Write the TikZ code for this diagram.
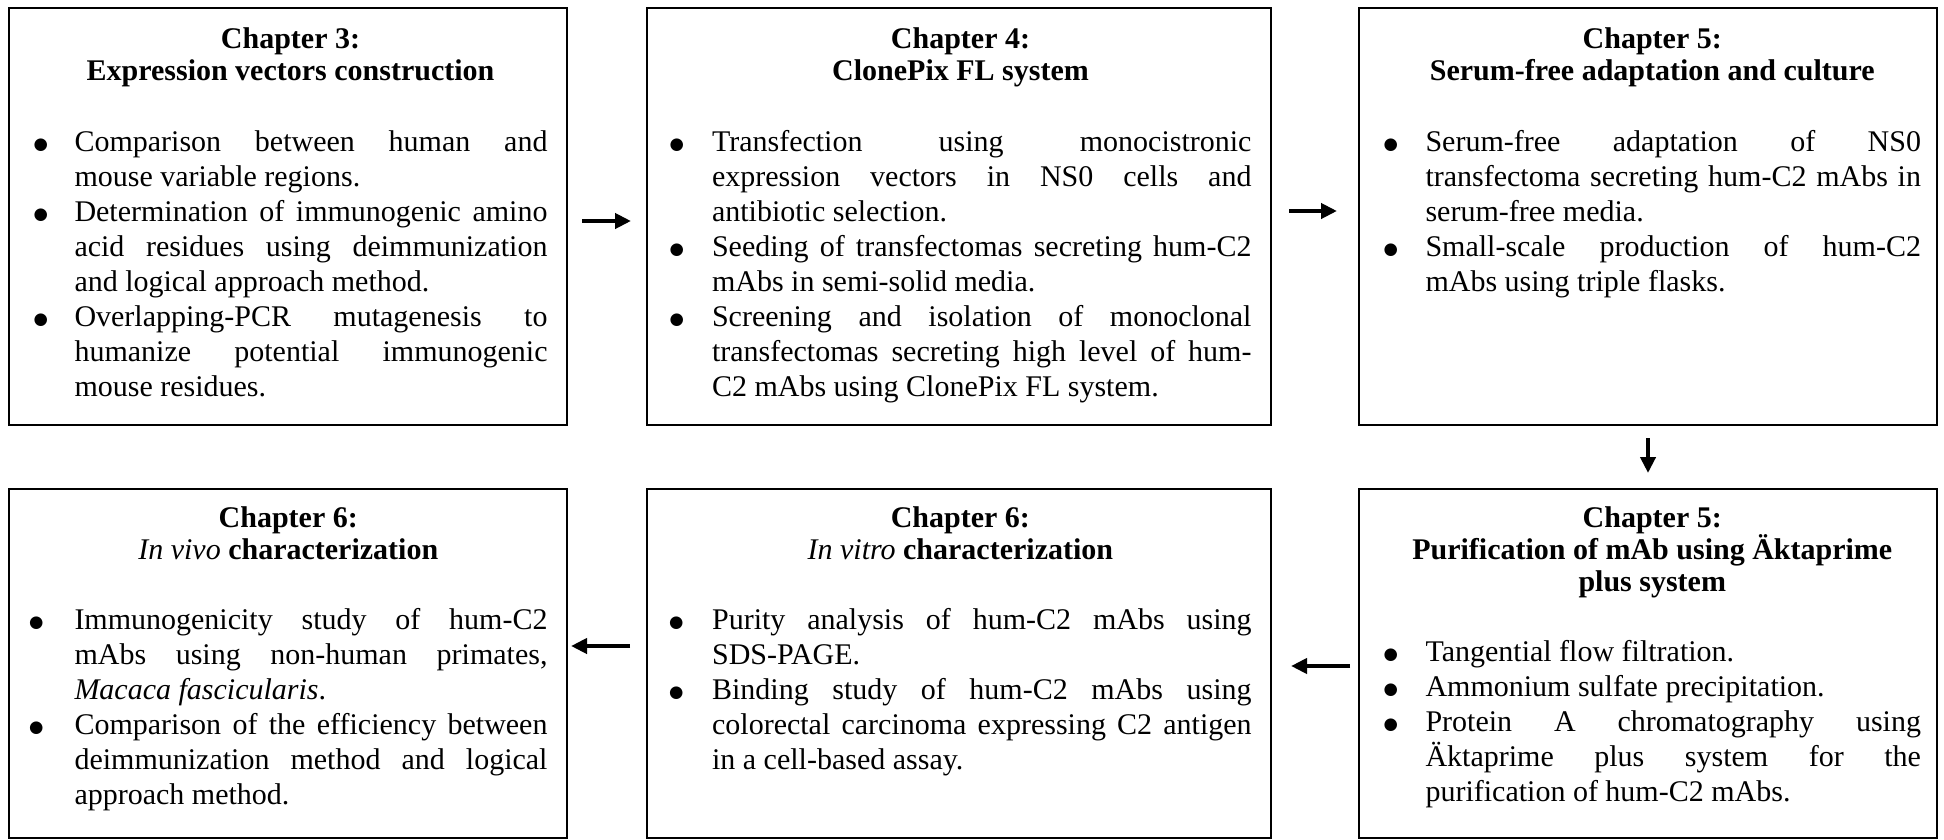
\documentclass[tikz,border=0pt]{standalone}
\usepackage{fontspec}
\setmainfont{Liberation Serif}
\newfontfamily\bulletfont{DejaVu Sans}
\usetikzlibrary{arrows.meta}
\newlength\bhang
\newcommand\bitem{\par\noindent\hangindent=\bhang\hangafter=1\relax\makebox[\bhang][l]{\raisebox{0.6pt}{\bulletfont\fontsize{6.6pt}{6.6pt}\selectfont ●}}\ignorespaces}
\newcommand\ttl[1]{\noindent{\leftskip=0pt plus 1fil\rightskip=0pt plus 1fil\parfillskip=0pt\relax\fontsize{12pt}{12.8pt}\selectfont\bfseries #1\par}\vspace{14pt}}
\newenvironment{boxtext}[2]{\begin{minipage}[t]{#1}\fontsize{12pt}{14pt}\selectfont\bhang=#2\relax\hyphenpenalty=10000\relax\exhyphenpenalty=10000\relax\tolerance=10000\relax\parindent=0pt\relax}{\par\end{minipage}}
\begin{document}
\begin{tikzpicture}[x=0.4pt,y=-0.4pt,
  box/.style={draw, line width=0.8pt, anchor=north west, inner sep=0pt, outer sep=0pt},
  row1/.style={minimum height=166.8pt},
  row2/.style={minimum height=139.6pt},
  txt/.style={anchor=base west, inner sep=0pt},
  arr/.style={line width=1.6pt, -{Triangle[length=6.4pt,width=6pt]}}]
\path[use as bounding box, fill=white] (0,0) rectangle (1944,839);

% boxes
\node[box,row1,minimum width=223.2pt] (b1) at (9,8) {};
\node[box,row1,minimum width=249.6pt] (b2) at (647,8) {};
\node[box,row1,minimum width=231.2pt] (b3) at (1359,8) {};
\node[box,row2,minimum width=223.2pt] (b4) at (9,489) {};
\node[box,row2,minimum width=249.6pt] (b5) at (647,489) {};
\node[box,row2,minimum width=231.2pt] (b6) at (1359,489) {};

% texts
\node[txt] (t1) at (33,49) {\begin{boxtext}{205.6pt}{16.4pt}%
\ttl{Chapter 3:\par Expression vectors construction}%
\bitem Comparison between human and\linebreak mouse variable regions.
\bitem Determination of immunogenic amino\linebreak acid residues using deimmunization\linebreak and logical approach method.
\bitem Overlapping-PCR mutagenesis to\linebreak humanize potential immunogenic\linebreak mouse residues.
\end{boxtext}};

\node[txt] (t2) at (669,49) {\begin{boxtext}{232.8pt}{17pt}%
\ttl{Chapter 4:\par ClonePix FL system}%
\bitem Transfection using monocistronic\linebreak expression vectors in NS0 cells and\linebreak antibiotic selection.
\bitem Seeding of transfectomas secreting hum-C2\linebreak mAbs in semi-solid media.
\bitem Screening and isolation of monoclonal\linebreak transfectomas secreting high level of hum-\linebreak C2 mAbs using ClonePix FL system.
\end{boxtext}};

\node[txt] (t3) at (1383,49) {\begin{boxtext}{215pt}{16.8pt}%
\ttl{Chapter 5:\par Serum-free adaptation and culture}%
\bitem Serum-free adaptation of NS0\linebreak transfectoma secreting hum-C2 mAbs in\linebreak serum-free media.
\bitem Small-scale production of hum-C2\linebreak mAbs using triple flasks.
\end{boxtext}};

\node[txt] (t4) at (28.5,527) {\begin{boxtext}{207.4pt}{18.2pt}%
\ttl{Chapter 6:\par {\mdseries\itshape In vivo} characterization}%
\bitem Immunogenicity study of hum-C2\linebreak mAbs using non-human primates,\linebreak \textit{Macaca fascicularis}.
\bitem Comparison of the efficiency between\linebreak deimmunization method and logical\linebreak approach method.
\end{boxtext}};

\node[txt] (t5) at (668.6,527) {\begin{boxtext}{233pt}{17.2pt}%
\ttl{Chapter 6:\par {\mdseries\itshape In vitro} characterization}%
\bitem Purity analysis of hum-C2 mAbs using\linebreak SDS-PAGE.
\bitem Binding study of hum-C2 mAbs using\linebreak colorectal carcinoma expressing C2 antigen\linebreak in a cell-based assay.
\end{boxtext}};

\node[txt] (t6) at (1383,527) {\begin{boxtext}{215pt}{16.8pt}%
\ttl{Chapter 5:\par Purification of mAb using Äktaprime\par plus system}%
\bitem Tangential flow filtration.
\bitem Ammonium sulfate precipitation.
\bitem Protein A chromatography using\linebreak Äktaprime plus system for the\linebreak purification of hum-C2 mAbs.
\end{boxtext}};

% arrows
\draw[arr, shorten <=6pt, shorten >=6.4pt] ([yshift=-1.8pt]b1.east) -- ([yshift=-1.8pt]b2.west);
\draw[arr, shorten <=7.2pt, shorten >=8.8pt] ([yshift=2.2pt]b2.east) -- ([yshift=2.2pt]b3.west);
\draw[arr, shorten <=5.2pt, shorten >=6.4pt] (b3.south) -- (b6.north);
\draw[arr, shorten <=3.6pt, shorten >=8pt] ([yshift=-1pt]b6.west) -- ([yshift=-1pt]b5.east);
\draw[arr, shorten <=6.8pt, shorten >=1.6pt] ([yshift=7pt]b5.west) -- ([yshift=7pt]b4.east);
\end{tikzpicture}
\end{document}
